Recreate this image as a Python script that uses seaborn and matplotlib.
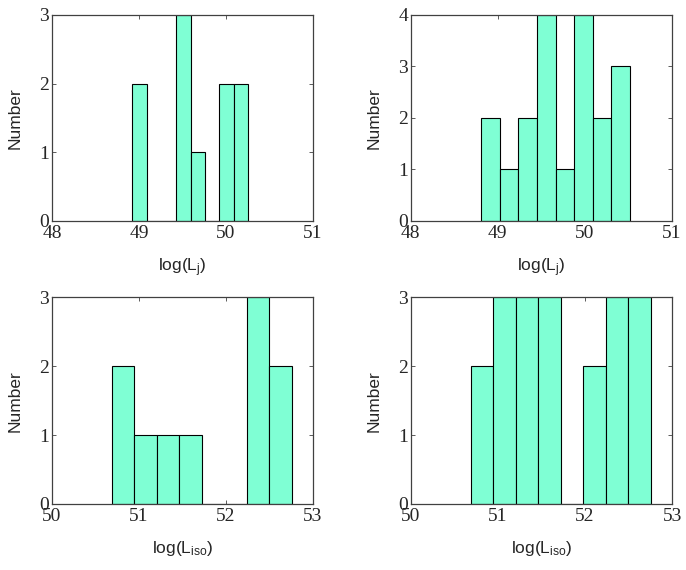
import numpy as np
import pandas as pd
import seaborn as sns
import matplotlib.pyplot as plt

# histogram bin edges and counts
edges_lj_a = [48.925, 49.092, 49.258, 49.425, 49.592, 49.758, 49.925, 50.092, 50.258]
counts_lj_a = [2, 0, 0, 3, 1, 0, 2, 2]

edges_lj_b = [48.81, 49.023, 49.236, 49.449, 49.662, 49.875, 50.088, 50.301, 50.514]
counts_lj_b = [2, 1, 2, 4, 1, 4, 2, 3]

edges_iso_a = [50.69, 50.948, 51.206, 51.464, 51.722, 51.98, 52.238, 52.496, 52.754]
counts_iso_a = [2, 1, 1, 1, 0, 0, 3, 2]

edges_iso_b = [50.69, 50.948, 51.206, 51.464, 51.722, 51.98, 52.238, 52.496, 52.754]
counts_iso_b = [2, 3, 3, 3, 0, 2, 3, 3]

sns.set_style('ticks')
plt.rcParams['font.family'] = ['Liberation Serif', 'DejaVu Serif']
plt.rcParams['mathtext.fontset'] = 'custom'
plt.rcParams['mathtext.rm'] = 'Liberation Sans'
plt.rcParams['mathtext.it'] = 'Liberation Sans'

fig = plt.figure(figsize=(6.86, 5.7), dpi=100)

panels = [
    (edges_lj_a, counts_lj_a, [0.0758, 0.6123, 0.3805, 0.3614], (48, 51), 3, 'log(L$_\\mathregular{j}$)'),
    (edges_lj_b, counts_lj_b, [0.5987, 0.6123, 0.3810, 0.3614], (48, 51), 4, 'log(L$_\\mathregular{j}$)'),
    (edges_iso_a, counts_iso_a, [0.0758, 0.1158, 0.3805, 0.3626], (50, 53), 3, 'log(L$_\\mathregular{iso}$)'),
    (edges_iso_b, counts_iso_b, [0.5987, 0.1158, 0.3810, 0.3626], (50, 53), 3, 'log(L$_\\mathregular{iso}$)'),
]

for edges, counts, rect, xlim, ymax, xlabel in panels:
    ax = fig.add_axes(rect)
    e = np.array(edges)
    df = pd.DataFrame({'x': (e[:-1] + e[1:]) / 2, 'n': counts})
    sns.histplot(data=df, x='x', weights='n', bins=edges, ax=ax,
                 color='#7fffd4', alpha=1, edgecolor='black', linewidth=0.8)
    ax.set_xlim(*xlim)
    ax.set_ylim(0, ymax)
    ax.set_xticks(np.arange(xlim[0], xlim[1] + 1))
    ax.set_yticks(np.arange(0, ymax + 1))
    ax.tick_params(direction='in', length=3, width=0.6, top=True, right=True,
                   labelsize=14, color='#404040')
    ax.tick_params(axis='x', pad=3)
    ax.tick_params(axis='y', pad=2)
    for s in ax.spines.values():
        s.set_visible(True)
        s.set_color('#404040')
        s.set_linewidth(0.9)
    ax.set_xlabel(xlabel, family='Liberation Sans', fontsize=12.5, labelpad=10)
    ax.set_ylabel('Number', family='Liberation Sans', fontsize=12.5, labelpad=12)

fig.savefig('out.png', dpi=100)
